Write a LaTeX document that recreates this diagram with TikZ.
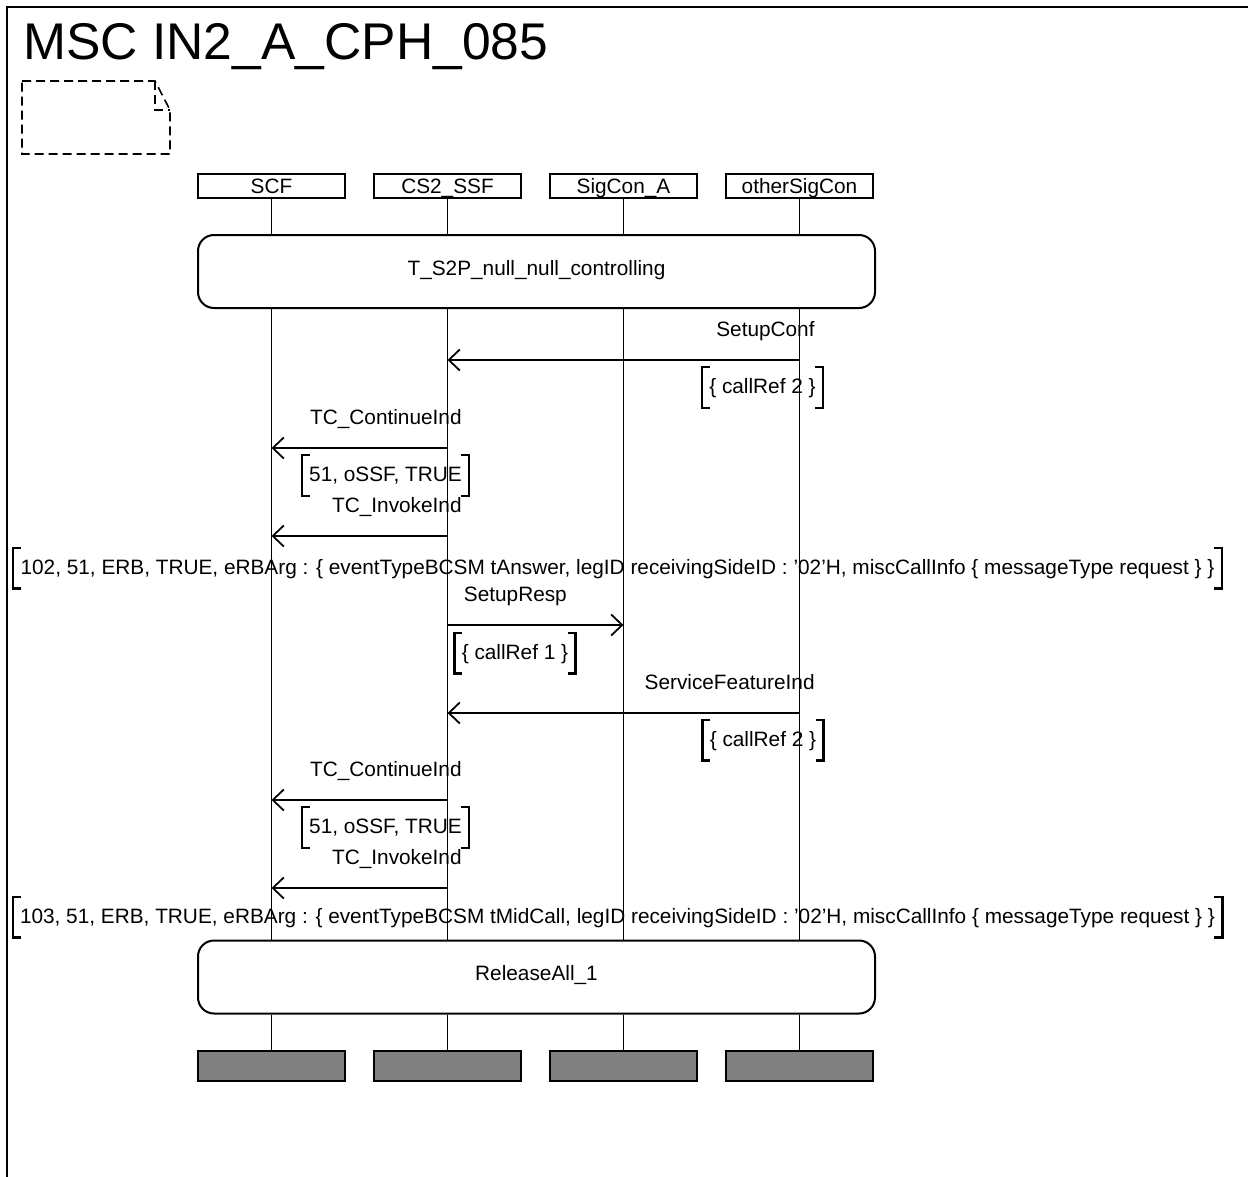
\documentclass[tikz,border=0pt]{standalone}
\usepackage{fontspec}
\setmainfont{Liberation Sans}
\usetikzlibrary{arrows.meta, positioning}

\begin{document}
\begin{tikzpicture}[
    x=0.5pt, y=-0.5pt,
    node distance=14.5pt,
    font=\fontsize{10.4}{12.5}\selectfont,
    head/.style={rectangle, draw, line width=1pt, minimum width=73.5pt, minimum height=11.5pt, inner sep=0pt, outer sep=0pt, text height=7.4pt, text depth=0pt},
    stopbox/.style={head, fill=black!50, minimum height=15pt},
    refbox/.style={rectangle, draw, line width=1pt, rounded corners=8pt, minimum width=338.5pt, minimum height=36.5pt, text height=7.4pt, text depth=3.5pt},
    life/.style={line width=0.9pt},
    msg/.style={line width=0.9pt, -{Straight Barb[length=5.5pt, width=10.5pt]}},
    lbl/.style={inner sep=0pt},
    param/.style={inner xsep=3.5pt, inner ysep=0pt, text height=7.4pt, text depth=1pt, minimum height=20pt},
    bracket/.style={line width=1.1pt},
    note/.style={line width=0.8pt, dash pattern=on 4.5pt off 2.5pt}
]
\useasboundingbox (0,0) rectangle (1248,1177);

% Frame and title
\draw[line width=1.3pt] (7,1177) -- (7,7) -- (1248,7);
\node[lbl, anchor=base west, font=\fontsize{25.8}{30}\selectfont] (title) at (23,60) {MSC IN2\_A\_CPH\_085};
\draw[note] (22,81) -- (155,81) -- (170,110) -- (170,154) -- (22,154) -- cycle;
\draw[note] (155,81) -- (155,110) -- (170,110);

% Instances
\node[head] (scf) at (271.5,186) {SCF};
\node[head, right=of scf] (ssf) {CS2\_SSF};
\node[head, right=of ssf] (sca) {SigCon\_A};
\node[head, right=of sca] (osc) {otherSigCon};

\node[refbox] (ref1) at (536.5,271.5) {T\_S2P\_null\_null\_controlling};
\node[refbox] (ref2) at (536.5,977) {ReleaseAll\_1};

\node[stopbox] (endscf) at (271.5,1066) {};
\node[stopbox, right=of endscf] (endssf) {};
\node[stopbox, right=of endssf] (endsca) {};
\node[stopbox, right=of endsca] (endosc) {};

% Lifelines
\foreach \n in {scf,ssf,sca,osc} {
    \draw[life] (\n) -- (\n |- ref1.north);
    \draw[life] (\n |- ref1.south) -- (\n |- ref2.north);
    \draw[life] (\n |- ref2.south) -- (end\n);
}

% Message levels
\coordinate (y1) at (0,360);
\coordinate (y2) at (0,448);
\coordinate (y3) at (0,536);
\coordinate (y4) at (0,625);
\coordinate (y5) at (0,713);
\coordinate (y6) at (0,800);
\coordinate (y7) at (0,888);

% Messages
\draw[msg] (osc |- y1) -- (ssf |- y1);
\draw[msg] (ssf |- y2) -- (scf |- y2);
\draw[msg] (ssf |- y3) -- (scf |- y3);
\draw[msg] (ssf |- y4) -- (sca |- y4);
\draw[msg] (osc |- y5) -- (ssf |- y5);
\draw[msg] (ssf |- y6) -- (scf |- y6);
\draw[msg] (ssf |- y7) -- (scf |- y7);

\node[lbl, anchor=base east] (l1) at (815,336) {SetupConf};
\node[lbl, anchor=base east] (l2) at (462,424) {TC\_ContinueInd};
\node[lbl, anchor=base east] (l3) at (462,512) {TC\_InvokeInd};
\node[lbl, anchor=base west] (l4) at (463.5,601) {SetupResp};
\node[lbl, anchor=base east] (l5) at (815,689) {ServiceFeatureInd};
\node[lbl, anchor=base east] (l6) at (462,776) {TC\_ContinueInd};
\node[lbl, anchor=base east] (l7) at (462,864) {TC\_InvokeInd};

% Parameters
\node[param] (p1) at (762.5,387.5) {\{ callRef 2 \}};
\node[param] (p2) at (385.5,475.5) {51, oSSF, TRUE};
\node[param] (p3) at (617.5,568) {102, 51, ERB, TRUE, eRBArg : \{ eventTypeBCSM tAnswer, legID receivingSideID : ’02’H, miscCallInfo \{ messageType request \} \}};
\node[param] (p4) at (515,653) {\{ callRef 1 \}};
\node[param] (p5) at (763,740) {\{ callRef 2 \}};
\node[param] (p6) at (385.5,827.5) {51, oSSF, TRUE};
\node[param] (p7) at (617.5,917) {103, 51, ERB, TRUE, eRBArg : \{ eventTypeBCSM tMidCall, legID receivingSideID : ’02’H, miscCallInfo \{ messageType request \} \}};

\foreach \p in {p1,p2,p3,p4,p5,p6,p7} {
    \draw[bracket] ([xshift=4pt]\p.north west) -- (\p.north west) -- (\p.south west) -- ([xshift=4pt]\p.south west);
    \draw[bracket] ([xshift=-4pt]\p.north east) -- (\p.north east) -- (\p.south east) -- ([xshift=-4pt]\p.south east);
}

\end{tikzpicture}
\end{document}
